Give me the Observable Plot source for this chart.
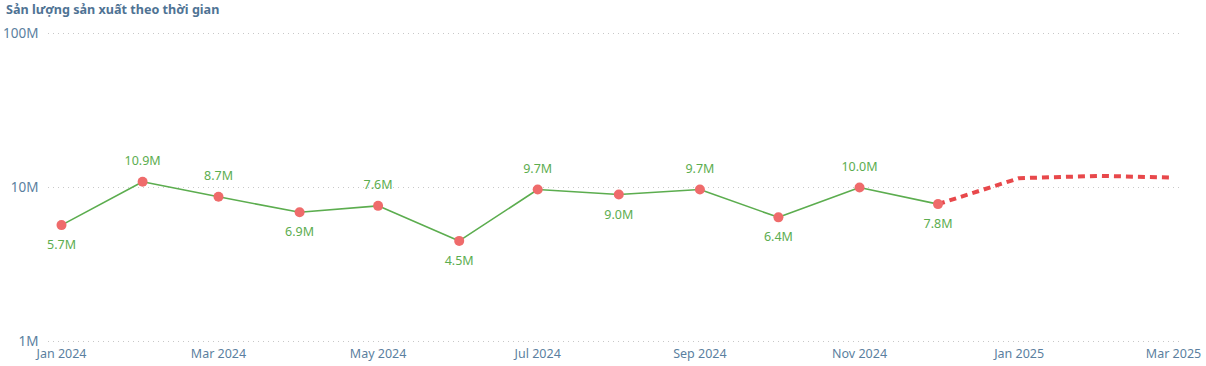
<!DOCTYPE html>
<html><head><meta charset="utf-8">
<script src="https://cdn.jsdelivr.net/npm/d3@7"></script>
<script src="https://cdn.jsdelivr.net/npm/@observablehq/plot@0.6"></script>
<style>
body{margin:0;background:#fff;font-family:"Segoe UI","Noto Sans","Open Sans",sans-serif;}
#title{height:22px;line-height:20px;padding-left:6px;font-size:12.6px;font-weight:bold;color:#4f7394;}
</style></head>
<body>
<div id="title">Sản lượng sản xuất theo thời gian</div>
<div id="chart"></div>
<script>
const months = ["2024-01","2024-02","2024-03","2024-04","2024-05","2024-06","2024-07","2024-08","2024-09","2024-10","2024-11","2024-12"];
const values = [5.7e6,10.9e6,8.7e6,6.9e6,7.6e6,4.5e6,9.7e6,9.0e6,9.7e6,6.4e6,10.0e6,7.8e6];
const labelSide = ["below","above","above","below","above","below","above","below","above","below","above","below"];
const forecastMonths = ["2024-12","2025-01","2025-02","2025-03"];
const forecastValues = [7.8e6,11.5e6,11.9e6,11.6e6];
const yTicks = [1e6,1e7,1e8];

const parse = d3.utcParse("%Y-%m");
const actual = months.map((m,i)=>({date:parse(m),value:values[i],side:labelSide[i]}));
const forecast = forecastMonths.map((m,i)=>({date:parse(m),value:forecastValues[i]}));
const fmtM = v => (v/1e6).toFixed(1)+"M";

const chart = Plot.plot({
  width:1206, height:344,
  marginLeft:48, marginRight:26, marginTop:11, marginBottom:25,
  style:{fontFamily:'"Segoe UI","Noto Sans","Open Sans",sans-serif',fontSize:"12px",color:"#5b7fa0",background:"#fff"},
  x:{type:"utc",domain:[parse("2024-01"),parse("2025-03")],insetLeft:13,insetRight:7,
     ticks:d3.utcMonth.every(2),tickFormat:d3.utcFormat("%b %Y"),tickSize:0,tickPadding:8,label:null},
  y:{type:"log",domain:[1e6,1e8],ticks:yTicks,tickFormat:v=>(v/1e6)+"M",tickSize:0,tickPadding:10,label:null},
  marks:[
    Plot.ruleY(yTicks,{stroke:"#c8c8c8",strokeDasharray:"1,4",strokeWidth:1}),
    Plot.axisY({ticks:yTicks,tickFormat:v=>(v/1e6)+"M",tickSize:0,tickPadding:10,fontSize:13.5,fill:"#5b7fa0"}),
    Plot.axisX({ticks:d3.utcMonth.every(2),tickFormat:d3.utcFormat("%b %Y"),tickSize:0,tickPadding:8,fontSize:12.5,fill:"#5b7fa0"}),
    Plot.line(forecast,{x:"date",y:"value",stroke:"#e8484b",strokeWidth:4,strokeDasharray:"7,5",strokeLinecap:"butt"}),
    Plot.line(actual,{x:"date",y:"value",stroke:"#5cad4f",strokeWidth:1.6}),
    Plot.dot(actual,{x:"date",y:"value",r:5,fill:"#ef6b6b",stroke:"none"}),
    Plot.text(actual.filter(d=>d.side==="above"),{x:"date",y:"value",text:d=>fmtM(d.value),dy:-21,fill:"#5cad4f",fontSize:12.5}),
    Plot.text(actual.filter(d=>d.side==="below"),{x:"date",y:"value",text:d=>fmtM(d.value),dy:20,fill:"#5cad4f",fontSize:12.5})
  ]
});
document.getElementById("chart").appendChild(chart);
</script>
</body></html>
